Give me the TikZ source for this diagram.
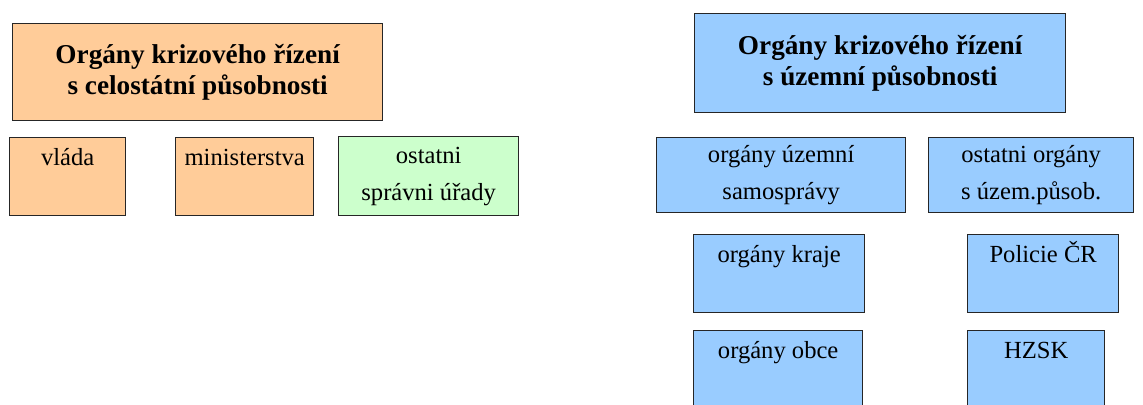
\documentclass[tikz,border=0pt]{standalone}
\usepackage{fontspec}
\newfontfamily\boxfont{Liberation Serif}
\definecolor{celofill}{HTML}{FFCC99}
\definecolor{uzemfill}{HTML}{99CCFF}
\definecolor{ostatfill}{HTML}{CCFFCC}
\tikzset{
    box/.style={draw=black!85, line width=0.8pt, anchor=north west, inner sep=0pt, align=center},
    head/.style={box, font=\boxfont\bfseries\fontsize{15.5}{18}\selectfont},
    item/.style={box, font=\boxfont\fontsize{14}{21}\selectfont},
    toptext/.style={text height=0.56cm, text depth=#1},
    celo/.style={fill=celofill},
    uzem/.style={fill=uzemfill},
    ostat/.style={fill=ostatfill}
}

\begin{document}
\begin{tikzpicture}[x=0.02cm, y=-0.02cm]
    \useasboundingbox (0,0) rectangle (1143,405);
    \clip (0,0) rectangle (1143,405);

    \node[head, celo, minimum width=7.4cm, minimum height=1.94cm] (celost) at (12,23)
        {Orgány krizového řízení\\s celostátní působnosti};
    \node[head, uzem, minimum width=7.42cm, minimum height=1.98cm] (uzemni) at (694,13)
        {Orgány krizového řízení\\s územní působnosti};

    \node[item, celo, minimum width=2.32cm, toptext=1.0cm] (vlada) at (9,137) {vláda};
    \node[item, celo, minimum width=2.76cm, toptext=1.0cm] (minist) at (175,137) {ministerstva};
    \node[item, ostat, minimum width=3.6cm, minimum height=1.58cm] (spravni) at (338,136)
        {ostatni\\správni úřady};
    \node[item, uzem, minimum width=4.98cm, minimum height=1.5cm] (samosp) at (656,137)
        {orgány územní\\samosprávy};
    \node[item, uzem, minimum width=4.1cm, minimum height=1.5cm] (ostorg) at (928,137)
        {ostatni orgány\\s územ.působ.};

    \node[item, uzem, minimum width=3.42cm, toptext=1.0cm] (kraje) at (693,234) {orgány kraje};
    \node[item, uzem, minimum width=3.02cm, toptext=1.0cm] (policie) at (967,234) {Policie ČR};
    \node[item, uzem, minimum width=3.38cm, toptext=1.3cm] (obce) at (693,330) {orgány obce};
    \node[item, uzem, minimum width=2.74cm, toptext=1.3cm] (hzsk) at (967,330) {HZSK};
\end{tikzpicture}
\end{document}
